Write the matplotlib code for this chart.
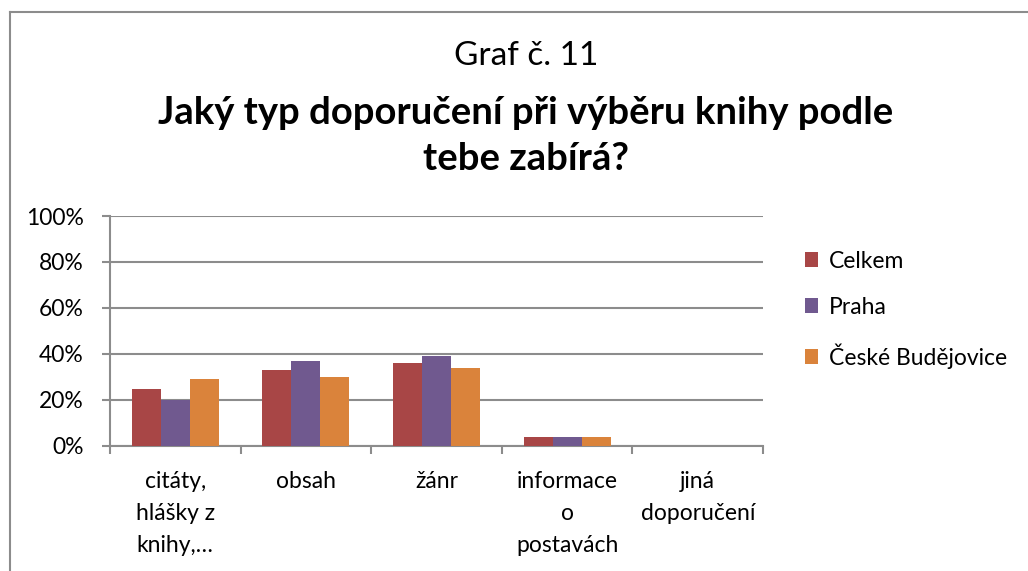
import matplotlib
matplotlib.use("Agg")
import matplotlib.pyplot as plt
import numpy as np
from matplotlib.lines import Line2D
from matplotlib.patches import Patch

categories = ["citáty,\nhlášky z\nknihy,…", "obsah", "žánr", "informace\no\npostavách", "jiná\ndoporučení"]
celkem = [25, 33, 36, 4, 0]
praha = [20, 37, 39, 4, 0]
cb = [29, 30, 34, 4, 0]
series_names = ["Celkem", "Praha", "České Budějovice"]
colors = ["#A84646", "#70598F", "#DA833B"]
yticks = [0, 20, 40, 60, 80, 100]
ytick_labels = ["0%", "20%", "40%", "60%", "80%", "100%"]

plt.rcParams['font.family'] = ['Lato', 'DejaVu Sans']

W, H = 1028, 571
fig = plt.figure(figsize=(W/100, H/100), dpi=100)

# chart border (left and top visible)
fig.add_artist(Line2D([9.5/W, 9.5/W], [0, 1 - 12/H], transform=fig.transFigure,
                      color="#8C8C8C", linewidth=1.5))
fig.add_artist(Line2D([9.5/W, 1], [1 - 12/H, 1 - 12/H], transform=fig.transFigure,
                      color="#8C8C8C", linewidth=1.5))

ax = fig.add_axes([110/W, 1 - 446/H, (763-110)/W, (446-216)/H])

x = np.arange(len(categories))
bw = 0.222
for i, (vals, c, n) in enumerate(zip([celkem, praha, cb], colors, series_names)):
    ax.bar(x + (i - 1) * bw, vals, width=bw, color=c, label=n, zorder=3)

fs = 16.5
ax.set_xlim(-0.5, len(categories) - 0.5)
ax.set_ylim(0, 100)
ax.set_yticks(yticks)
ax.set_yticklabels(ytick_labels, fontsize=fs)
ax.yaxis.grid(True, color="#8C8C8C", linewidth=1.5, zorder=0)
ax.set_xticks(np.arange(len(categories) + 1) - 0.5, minor=False)
ax.set_xticklabels([""] * (len(categories) + 1))
ax.tick_params(axis='x', length=6, color="#8C8C8C", width=1.5, direction='out')
ax.tick_params(axis='y', length=6, color="#8C8C8C", width=1.5, direction='out', pad=13)
for s in ["top", "right"]:
    ax.spines[s].set_visible(False)
for s in ["left", "bottom"]:
    ax.spines[s].set_color("#8C8C8C")
    ax.spines[s].set_linewidth(1.5)

for xi, lab in zip(x, categories):
    ax.annotate(lab, xy=(xi, 0), xycoords=('data', 'axes fraction'),
                xytext=(0, -18), textcoords='offset points',
                ha='center', va='top', fontsize=fs, linespacing=1.66)

fig.text(526/W, 1 - 56/H, "Graf č. 11", ha='center', va='center', fontsize=24)
fig.text(526/W, 1 - 136/H, "Jaký typ doporučení při výběru knihy podle\ntebe zabírá?",
         ha='center', va='center', fontsize=27.5, fontweight='bold', linespacing=1.42)

handles = [Patch(facecolor=c, label=n) for c, n in zip(colors, series_names)]
fig.legend(handles=handles, loc='upper left', bbox_to_anchor=(784/W, 1 - 230/H),
           frameon=False, fontsize=fs, handlelength=0.6, handleheight=0.6,
           handletextpad=0.45, labelspacing=1.1)

fig.savefig("out.png", dpi=100)
